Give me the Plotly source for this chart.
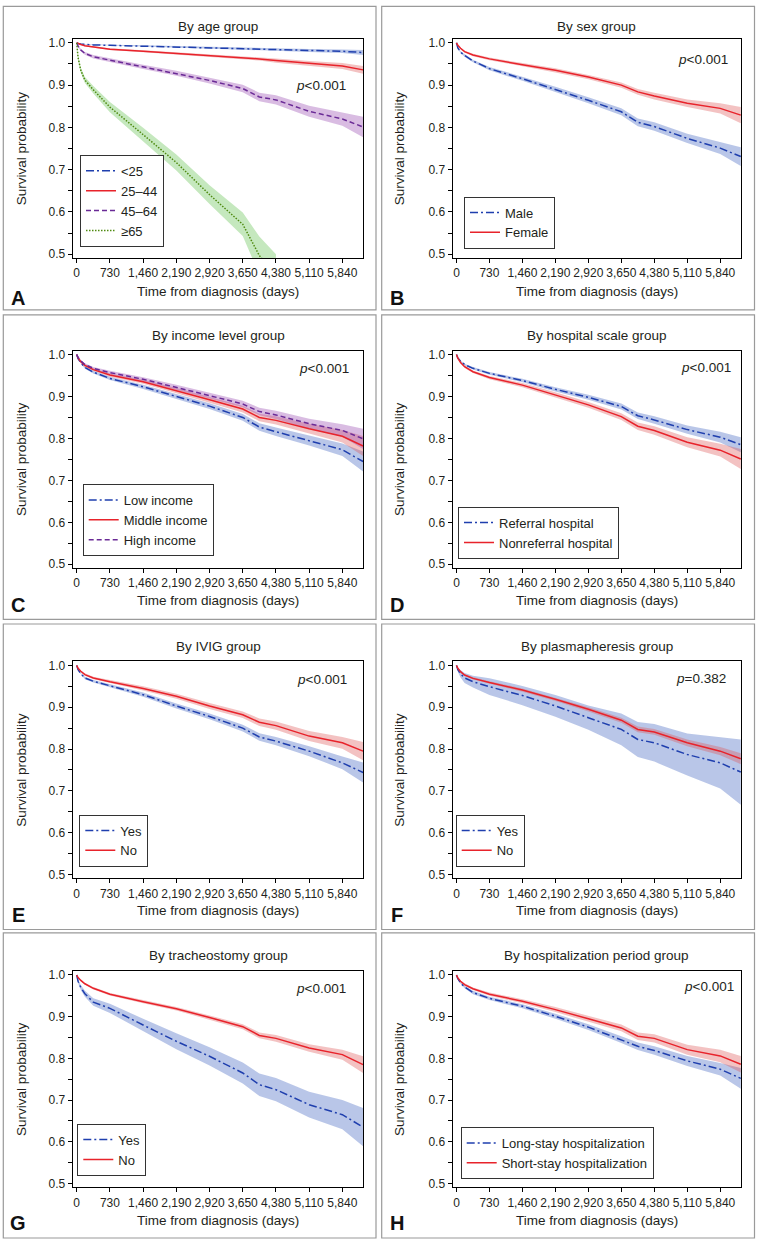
import plotly.graph_objects as go

# ---------------- data ----------------
T = [0, 30, 90, 180, 365, 730, 1460, 2190, 2920, 3650, 4015, 4380, 5110, 5840, 6295]
x_ticks = [0, 730, 1460, 2190, 2920, 3650, 4380, 5110, 5840]
x_ticklabels = ["0", "730", "1,460", "2,190", "2,920", "3,650", "4,380", "5,110", "5,840"]
y_ticks = [0.5, 0.6, 0.7, 0.8, 0.9, 1.0]
y_ticklabels = ["0.5", "0.6", "0.7", "0.8", "0.9", "1.0"]
y_minor = [0.55, 0.65, 0.75, 0.85, 0.95]

titles = ["By age group", "By sex group", "By income level group", "By hospital scale group",
          "By IVIG group", "By plasmapheresis group", "By tracheostomy group",
          "By hospitalization period group"]
letters = ["A", "B", "C", "D", "E", "F", "G", "H"]
pvalues = ["<i>p</i>&lt;0.001", "<i>p</i>&lt;0.001", "<i>p</i>&lt;0.001", "<i>p</i>&lt;0.001",
           "<i>p</i>&lt;0.001", "<i>p</i>=0.382", "<i>p</i>&lt;0.001", "<i>p</i>&lt;0.001"]

# A: age
age_lt25 = [1.0, 0.998, 0.997, 0.996, 0.995, 0.994, 0.992, 0.990, 0.988, 0.986, 0.985, 0.984, 0.982, 0.980, 0.977]
age_lt25_hw = [0, 0.001, 0.001, 0.001, 0.001, 0.0015, 0.002, 0.002, 0.0025, 0.003, 0.003, 0.003, 0.0035, 0.004, 0.006]
age_25_44 = [1.0, 0.998, 0.996, 0.993, 0.990, 0.985, 0.980, 0.975, 0.969, 0.965, 0.962, 0.958, 0.951, 0.945, 0.936]
age_25_44_hw = [0, 0.001, 0.001, 0.0015, 0.002, 0.002, 0.0025, 0.003, 0.003, 0.004, 0.004, 0.005, 0.006, 0.007, 0.009]
age_45_64 = [1.0, 0.992, 0.983, 0.975, 0.967, 0.959, 0.943, 0.928, 0.911, 0.892, 0.872, 0.865, 0.838, 0.820, 0.801]
age_45_64_hw = [0, 0.002, 0.003, 0.003, 0.004, 0.004, 0.005, 0.006, 0.007, 0.009, 0.010, 0.011, 0.013, 0.016, 0.024]
age_ge65 = [1.0, 0.965, 0.935, 0.912, 0.889, 0.848, 0.783, 0.717, 0.641, 0.571, 0.497, 0.45, None, None, None]
age_ge65_hw = [0, 0.005, 0.006, 0.007, 0.009, 0.012, 0.016, 0.019, 0.022, 0.028, 0.045, 0.05, None, None, None]

# B: sex
male = [1.0, 0.988, 0.978, 0.970, 0.957, 0.939, 0.915, 0.890, 0.864, 0.837, 0.812, 0.802, 0.774, 0.751, 0.731]
male_hw = [0, 0.002, 0.002, 0.003, 0.003, 0.004, 0.005, 0.006, 0.007, 0.008, 0.009, 0.010, 0.011, 0.014, 0.022]
female = [1.0, 0.994, 0.987, 0.979, 0.971, 0.962, 0.948, 0.935, 0.919, 0.900, 0.884, 0.874, 0.857, 0.845, 0.829]
female_hw = [0, 0.001, 0.002, 0.002, 0.003, 0.003, 0.004, 0.005, 0.005, 0.006, 0.007, 0.008, 0.009, 0.012, 0.019]

# C: income
low_inc = [1.0, 0.990, 0.980, 0.969, 0.958, 0.943, 0.923, 0.900, 0.877, 0.850, 0.827, 0.816, 0.795, 0.773, 0.745]
low_inc_hw = [0, 0.002, 0.002, 0.003, 0.003, 0.004, 0.005, 0.006, 0.007, 0.008, 0.009, 0.010, 0.012, 0.015, 0.024]
mid_inc = [1.0, 0.992, 0.983, 0.974, 0.964, 0.951, 0.935, 0.914, 0.892, 0.870, 0.850, 0.843, 0.823, 0.805, 0.782]
mid_inc_hw = [0, 0.002, 0.002, 0.003, 0.003, 0.004, 0.005, 0.006, 0.007, 0.008, 0.009, 0.010, 0.012, 0.015, 0.024]
high_inc = [1.0, 0.993, 0.985, 0.976, 0.967, 0.957, 0.941, 0.922, 0.902, 0.882, 0.864, 0.856, 0.835, 0.819, 0.799]
high_inc_hw = [0, 0.002, 0.002, 0.003, 0.003, 0.004, 0.005, 0.006, 0.007, 0.008, 0.009, 0.010, 0.012, 0.015, 0.024]

# D: hospital scale
referral = [1.0, 0.992, 0.984, 0.976, 0.967, 0.955, 0.938, 0.917, 0.898, 0.876, 0.854, 0.844, 0.821, 0.803, 0.785]
referral_hw = [0, 0.001, 0.002, 0.002, 0.003, 0.003, 0.004, 0.005, 0.006, 0.007, 0.008, 0.009, 0.010, 0.013, 0.018]
nonreferral = [1.0, 0.991, 0.981, 0.971, 0.959, 0.945, 0.927, 0.904, 0.880, 0.852, 0.829, 0.819, 0.791, 0.772, 0.751]
nonreferral_hw = [0, 0.002, 0.002, 0.003, 0.003, 0.004, 0.005, 0.006, 0.007, 0.008, 0.009, 0.010, 0.012, 0.015, 0.024]

# E: IVIG
ivig_yes = [1.0, 0.990, 0.980, 0.970, 0.962, 0.951, 0.930, 0.903, 0.878, 0.850, 0.829, 0.819, 0.795, 0.767, 0.744]
ivig_yes_hw = [0, 0.002, 0.002, 0.003, 0.003, 0.004, 0.005, 0.006, 0.007, 0.008, 0.009, 0.010, 0.012, 0.015, 0.024]
ivig_no = [1.0, 0.993, 0.986, 0.978, 0.970, 0.961, 0.945, 0.926, 0.903, 0.882, 0.864, 0.856, 0.831, 0.815, 0.795]
ivig_no_hw = [0, 0.002, 0.002, 0.003, 0.003, 0.004, 0.005, 0.006, 0.007, 0.008, 0.009, 0.010, 0.012, 0.014, 0.022]

# F: plasmapheresis
pe_yes = [1.0, 0.990, 0.980, 0.970, 0.961, 0.949, 0.928, 0.903, 0.875, 0.847, 0.823, 0.815, 0.787, 0.767, 0.745]
pe_yes_hw = [0, 0.005, 0.009, 0.012, 0.014, 0.020, 0.023, 0.026, 0.029, 0.038, 0.042, 0.045, 0.050, 0.061, 0.078]
pe_no = [1.0, 0.993, 0.985, 0.977, 0.969, 0.959, 0.941, 0.919, 0.895, 0.869, 0.847, 0.841, 0.815, 0.795, 0.777]
pe_no_hw = [0, 0.001, 0.002, 0.002, 0.003, 0.003, 0.004, 0.004, 0.005, 0.006, 0.007, 0.007, 0.008, 0.010, 0.013]

# G: tracheostomy
trach_yes = [1.0, 0.985, 0.970, 0.955, 0.935, 0.920, 0.880, 0.841, 0.805, 0.765, 0.737, 0.725, 0.689, 0.665, 0.635]
trach_yes_hw = [0, 0.004, 0.006, 0.007, 0.009, 0.011, 0.015, 0.019, 0.022, 0.025, 0.027, 0.028, 0.031, 0.035, 0.046]
trach_no = [1.0, 0.994, 0.987, 0.979, 0.968, 0.954, 0.936, 0.919, 0.898, 0.876, 0.855, 0.848, 0.825, 0.809, 0.785]
trach_no_hw = [0, 0.001, 0.002, 0.002, 0.003, 0.003, 0.004, 0.004, 0.005, 0.006, 0.007, 0.008, 0.009, 0.012, 0.020]

# H: hospitalization period
long_stay = [1.0, 0.991, 0.981, 0.971, 0.958, 0.944, 0.925, 0.901, 0.875, 0.845, 0.829, 0.819, 0.794, 0.774, 0.752]
long_stay_hw = [0, 0.002, 0.002, 0.003, 0.004, 0.004, 0.005, 0.006, 0.007, 0.008, 0.009, 0.010, 0.012, 0.015, 0.025]
short_stay = [1.0, 0.993, 0.985, 0.977, 0.967, 0.954, 0.937, 0.917, 0.895, 0.873, 0.853, 0.848, 0.821, 0.806, 0.786]
short_stay_hw = [0, 0.002, 0.002, 0.003, 0.003, 0.004, 0.005, 0.006, 0.007, 0.008, 0.009, 0.010, 0.012, 0.015, 0.020]

# ---------------- styles ----------------
BLUE = dict(line="#1f3fae", fill="rgba(70,105,195,0.38)", dash="8px,3px,2px,3px")
RED = dict(line="#e8232b", fill="rgba(222,85,85,0.36)", dash="solid")
PURPLE = dict(line="#6a2a96", fill="rgba(150,70,175,0.36)", dash="5px,3px")
GREEN = dict(line="#4f8a10", fill="rgba(95,190,75,0.36)", dash="1.5px,1.5px")

panels = [
    [("<25", age_lt25, age_lt25_hw, BLUE), ("25–44", age_25_44, age_25_44_hw, RED),
     ("45–64", age_45_64, age_45_64_hw, PURPLE), ("≥65", age_ge65, age_ge65_hw, GREEN)],
    [("Male", male, male_hw, BLUE), ("Female", female, female_hw, RED)],
    [("Low income", low_inc, low_inc_hw, BLUE), ("Middle income", mid_inc, mid_inc_hw, RED),
     ("High income", high_inc, high_inc_hw, PURPLE)],
    [("Referral hospital", referral, referral_hw, BLUE),
     ("Nonreferral hospital", nonreferral, nonreferral_hw, RED)],
    [("Yes", ivig_yes, ivig_yes_hw, BLUE), ("No", ivig_no, ivig_no_hw, RED)],
    [("Yes", pe_yes, pe_yes_hw, BLUE), ("No", pe_no, pe_no_hw, RED)],
    [("Yes", trach_yes, trach_yes_hw, BLUE), ("No", trach_no, trach_no_hw, RED)],
    [("Long-stay hospitalization", long_stay, long_stay_hw, BLUE),
     ("Short-stay hospitalization", short_stay, short_stay_hw, RED)],
]

# ---------------- layout geometry (pixels) ----------------
W, H = 758, 1245
FONT = "Liberation Sans, Arial, sans-serif"
col_x = [(72.7, 363.3), (452.5, 741.0)]
row_y = [(40.0, 252.5), (353.2, 564.0), (665.6, 875.8), (976.7, 1186.2)]  # pixel y of 1.0 and 0.5
YR = [0.491, 1.0095]
XR = [-88, 6300]
box_rows = [(3.3, 308.3), (313.3, 619.3), (624.0, 931.0), (934.3, 1241.0)]
box_cols = [(3.3, 376.0), (381.7, 754.5)]
title_y = [23.3, 334.3, 646.5, 956.7]
xtitle_y = [289.7, 600.0, 911.7, 1223.3]
letter_y = [296.0, 605.0, 916.0, 1226.0]
letter_x = [18.0, 396.7]
ytitle_x = [21.7, 399.7]
p_pos = [(348.3, 83.3), (729.7, 56.7), (350.7, 367.7), (733.0, 366.7),
         (349.3, 680.0), (728.0, 679.0), (348.3, 990.7), (736.3, 988.3)]
legend_pos = [(80.0, 245.0), (464.0, 246.7), (82.7, 555.7), (458.0, 558.3),
              (79.3, 867.7), (455.7, 867.7), (77.3, 1178.3), (460.7, 1181.7)]


def px(x):
    return x / W


def py(y):
    return 1 - y / H


fig = go.Figure()
layout = dict(width=W, height=H, margin=dict(l=0, r=0, t=0, b=0),
              paper_bgcolor="white", plot_bgcolor="white",
              font=dict(family=FONT, size=13, color="#231f20"),
              shapes=[], annotations=[])

for i, series in enumerate(panels):
    r, c = divmod(i, 2)
    n = i + 1
    xa = "x" if n == 1 else f"x{n}"
    ya = "y" if n == 1 else f"y{n}"
    leg = "legend" if n == 1 else f"legend{n}"

    # confidence bands first
    for name, vals, hw, st in series:
        xs = [t for t, v in zip(T, vals) if v is not None]
        vs = [v for v in vals if v is not None]
        hs = [h for h in hw if h is not None]
        up = [v + h for v, h in zip(vs, hs)]
        lo = [v - h for v, h in zip(vs, hs)]
        fig.add_trace(go.Scatter(x=xs + xs[::-1], y=up + lo[::-1], fill="toself",
                                 fillcolor=st["fill"], line=dict(width=0),
                                 mode="lines", hoverinfo="skip", showlegend=False,
                                 xaxis=xa, yaxis=ya))
    for name, vals, hw, st in series:
        xs = [t for t, v in zip(T, vals) if v is not None]
        vs = [v for v in vals if v is not None]
        fig.add_trace(go.Scatter(x=xs, y=vs, mode="lines", name=name,
                                 line=dict(color=st["line"], width=1.5, dash=st["dash"]),
                                 xaxis=xa, yaxis=ya, legend=leg))

    x0, x1 = col_x[c]
    y10, y05 = row_y[r]
    ppu = (y05 - y10) / 0.5
    top = y10 - (YR[1] - 1.0) * ppu
    bot = y05 + (0.5 - YR[0]) * ppu
    axcommon = dict(showline=True, linecolor="black", linewidth=1, mirror=True,
                    ticks="outside", ticklen=4, tickcolor="black", tickwidth=1,
                    showgrid=False, zeroline=False, tickfont=dict(size=12, family=FONT))
    layout[f"xaxis{'' if n == 1 else n}"] = dict(
        domain=[px(x0), px(x1)], anchor=ya, range=XR, tickvals=x_ticks,
        ticktext=x_ticklabels, tickangle=0, **axcommon)
    layout[f"yaxis{'' if n == 1 else n}"] = dict(
        domain=[py(bot), py(top)], anchor=xa, range=YR, tickvals=y_ticks,
        ticktext=y_ticklabels,
        minor=dict(tickvals=y_minor, ticks="outside", ticklen=4, tickcolor="black", showgrid=False),
        **axcommon)

    lx, ly = legend_pos[i]
    layout[leg] = dict(x=px(lx), y=py(ly), xanchor="left", yanchor="bottom",
                       bordercolor="#333333", borderwidth=1, bgcolor="white",
                       font=dict(size=13, family=FONT), tracegroupgap=0,
                       itemwidth=30, itemclick=False)

    # panel frame
    bx0, bx1 = box_cols[c]
    by0, by1 = box_rows[r]
    layout["shapes"].append(dict(type="rect", xref="paper", yref="paper",
                                 x0=px(bx0), x1=px(bx1), y0=py(by1), y1=py(by0),
                                 line=dict(color="#9a9a9a", width=1.2)))
    cx = (x0 + x1) / 2
    layout["annotations"] += [
        dict(text=titles[i], x=px(cx), y=py(title_y[r]), xref="paper", yref="paper",
             showarrow=False, xanchor="center", yanchor="middle", font=dict(size=13.5)),
        dict(text="Time from diagnosis (days)", x=px(cx), y=py(xtitle_y[r]), xref="paper",
             yref="paper", showarrow=False, xanchor="center", yanchor="middle",
             font=dict(size=13.5)),
        dict(text="Survival probability", x=px(ytitle_x[c]), y=py((y10 + y05) / 2),
             xref="paper", yref="paper", showarrow=False, textangle=-90,
             xanchor="center", yanchor="middle", font=dict(size=13.5)),
        dict(text=f"<b>{letters[i]}</b>", x=px(letter_x[c]), y=py(letter_y[r]),
             xref="paper", yref="paper", showarrow=False, xanchor="center",
             yanchor="middle", font=dict(size=20, color="#111111")),
        dict(text=pvalues[i], x=px(p_pos[i][0]), y=py(p_pos[i][1]), xref="paper",
             yref="paper", showarrow=False, xanchor="right", yanchor="middle",
             font=dict(size=13.5)),
    ]

fig.update_layout(**layout)
fig.write_html("out.html", config={"displayModeBar": False},
               post_script="document.body.style.margin='0';document.body.style.overflow='hidden';")
